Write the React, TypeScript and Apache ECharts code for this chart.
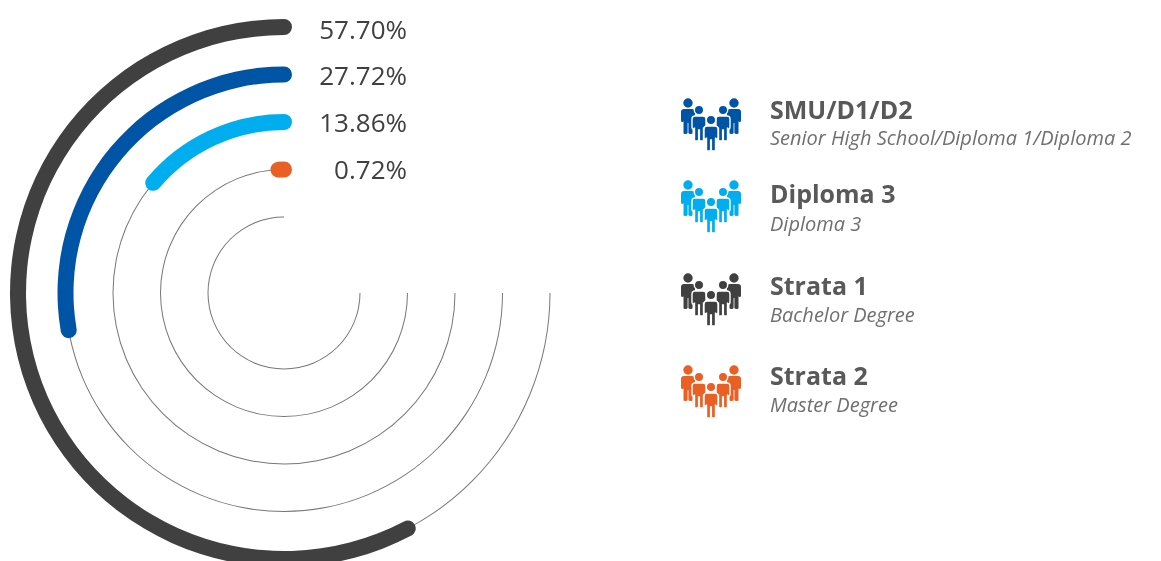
import React, { useEffect, useRef } from "react";
import * as echarts from "echarts";

const rings = ["inner", "Strata 2", "Diploma 3", "SMU/D1/D2", "Strata 1"];
const shares = [null, 0.72, 13.86, 27.72, 57.7];
const trackValues = [75, 75, 75, 75, 75];
const ringColors = ["#777777", "#e95f24", "#00aeef", "#0054a6", "#404040"];

const labelTexts = ["57.70%", "27.72%", "13.86%", "0.72%"];
const labelYs = [29, 75, 122, 169];

const legendTitles = ["SMU/D1/D2", "Diploma 3", "Strata 1", "Strata 2"];
const legendSubs = [
  "Senior High School/Diploma 1/Diploma 2",
  "Diploma 3",
  "Bachelor Degree",
  "Master Degree",
];
const legendColors = ["#0054a6", "#00aeef", "#404040", "#e95f24"];
const titleYs = [109, 193, 285, 375];
const subYs = [137, 223, 314, 404];
const iconYs = [103, 185, 278, 370];

const PERSON =
  "M-4.7 0A4.7 4.7 0 1 1 4.7 0A4.7 4.7 0 1 1 -4.7 0Z" +
  "M-4 6L4 6Q7 6 7 9L7 17.5Q7 19 5.6 19Q4.5 19 4.5 17.5L4.5 30Q4.5 31 3 31Q0.4 31 0.4 30L0.4 20L-0.4 20L-0.4 30Q-0.4 31 -3 31Q-4.5 31 -4.5 30L-4.5 17.5Q-4.5 19 -5.6 19Q-7 19 -7 17.5L-7 9Q-7 6 -4 6Z";
echarts.graphic.registerShape("person", echarts.graphic.extendPath(PERSON as any, {}) as any);

const FONT = "'Open Sans', 'Noto Sans', sans-serif";
const people = [
  { dx: 6, dy: 0, outline: false },
  { dx: 52, dy: 0, outline: false },
  { dx: 17, dy: 7, outline: true },
  { dx: 41, dy: 7, outline: true },
  { dx: 29, dy: 17, outline: true },
];

function legendIcon(color: string, y: number) {
  return {
    type: "group",
    x: 682,
    y,
    silent: true,
    children: people.map((p) => ({
      type: "person",
      x: p.dx,
      y: p.dy,
      style: {
        fill: color,
        stroke: p.outline ? "#ffffff" : "transparent",
        lineWidth: p.outline ? 1.4 : 0,
      },
    })),
  };
}

export default function App() {
  const ref = useRef<HTMLDivElement>(null);
  useEffect(() => {
    const chart = echarts.init(ref.current!, undefined, { renderer: "svg" });
    const polarBase = { center: [284, 293], radius: [52.25, 289.75] };
    const angle = { type: "value", min: 0, max: 100, startAngle: 90, clockwise: false, show: false };
    chart.setOption({
      animation: false,
      polar: [polarBase, polarBase],
      angleAxis: [
        { ...angle, polarIndex: 0 },
        { ...angle, polarIndex: 1 },
      ],
      radiusAxis: [
        { type: "category", data: rings, show: false, polarIndex: 0 },
        { type: "category", data: rings, show: false, polarIndex: 1 },
      ],
      series: [
        {
          type: "bar",
          coordinateSystem: "polar",
          polarIndex: 0,
          barWidth: 1,
          data: trackValues,
          itemStyle: { color: "#777777" },
          silent: true,
          z: 1,
        },
        {
          type: "bar",
          coordinateSystem: "polar",
          polarIndex: 1,
          barWidth: 16,
          roundCap: true,
          data: shares.map((v, i) => ({ value: v, itemStyle: { color: ringColors[i] } })),
          silent: true,
          z: 2,
        },
      ],
      graphic: [
        ...labelTexts.map((t, i) => ({
          type: "text",
          x: 407,
          y: labelYs[i],
          style: { text: t, fill: "#404040", font: `26px ${FONT}`, textAlign: "right", textVerticalAlign: "middle" },
        })),
        ...legendTitles.flatMap((t, i) => [
          legendIcon(legendColors[i], iconYs[i]),
          {
            type: "text",
            x: 770,
            y: titleYs[i],
            style: { text: t, fill: "#595959", font: `bold 25px ${FONT}`, textVerticalAlign: "middle" },
          },
          {
            type: "text",
            x: 770,
            y: subYs[i],
            style: { text: legendSubs[i], fill: "#6f6f6f", font: `italic 20px ${FONT}`, textVerticalAlign: "middle" },
          },
        ]),
      ],
    });
    return () => chart.dispose();
  }, []);
  return <div ref={ref} style={{ position: "fixed", left: 0, top: 0, width: 1161, height: 561 }} />;
}
